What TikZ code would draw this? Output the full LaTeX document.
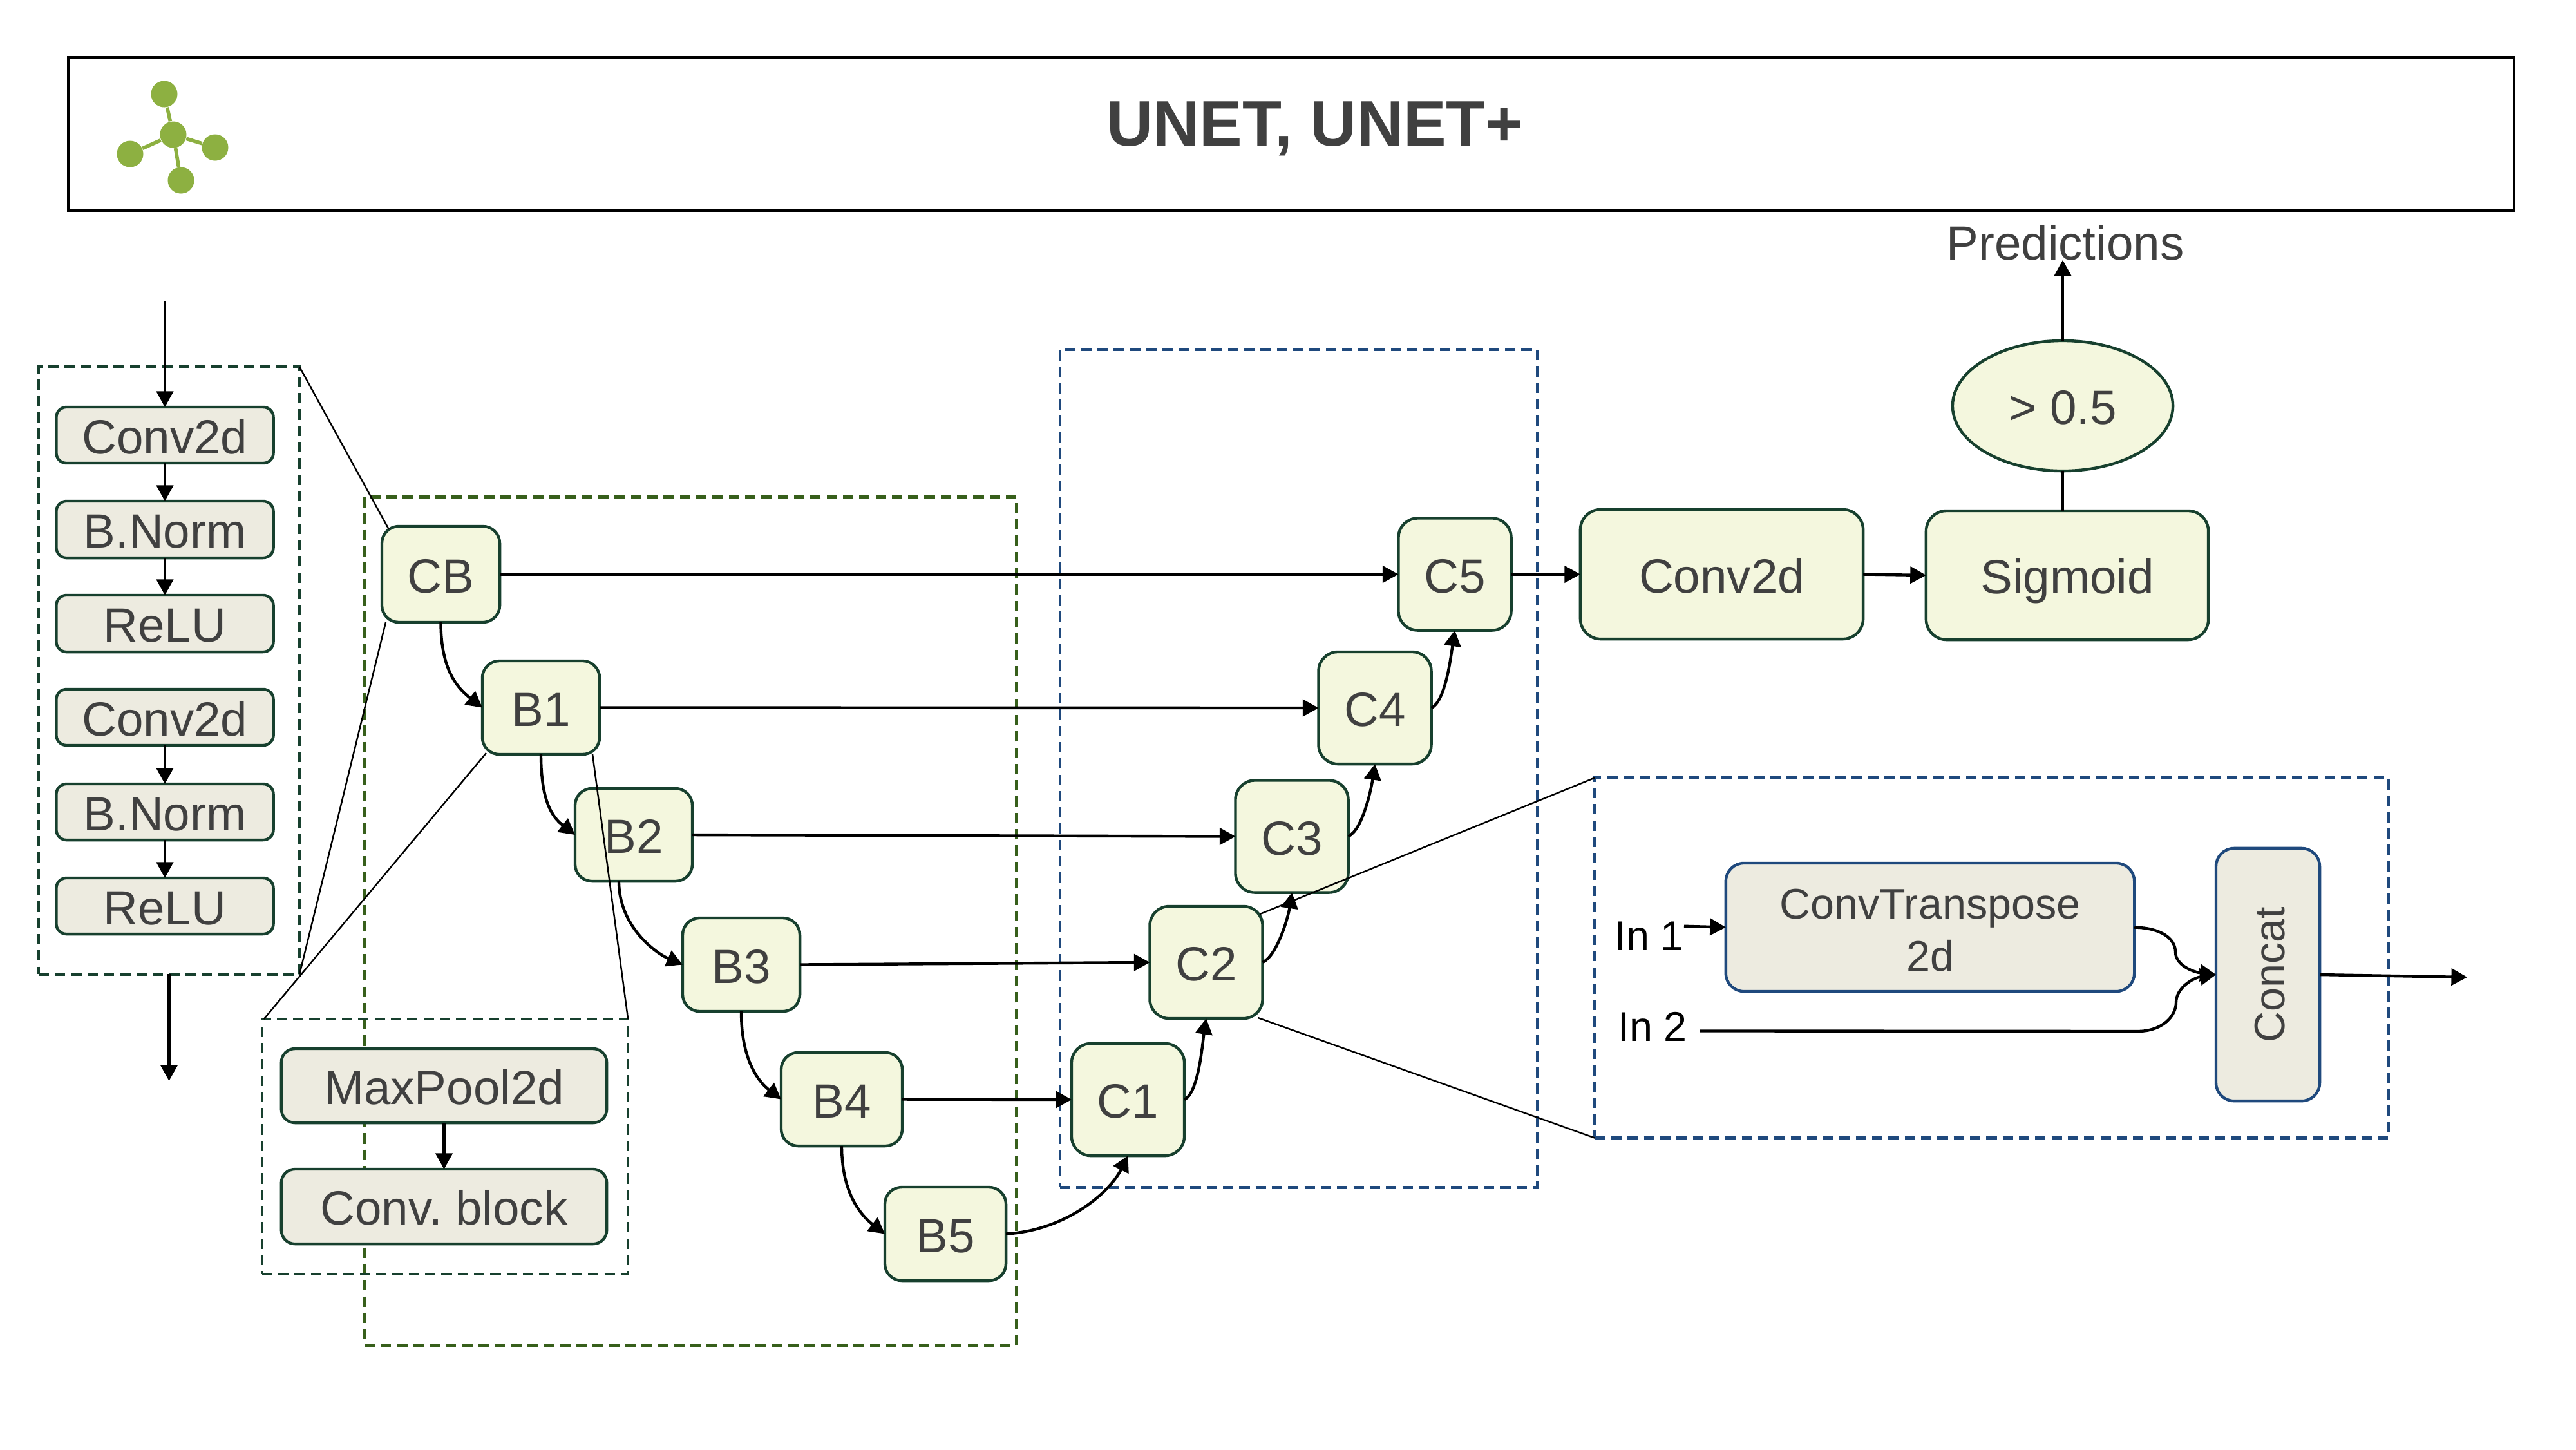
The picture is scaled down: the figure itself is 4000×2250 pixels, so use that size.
\documentclass[tikz,border=0pt]{standalone}
\usepackage{fontspec}
\usepackage{graphicx}
\setmainfont{Liberation Sans}
\usetikzlibrary{arrows.meta,shapes.geometric}
\definecolor{txtgray}{HTML}{404040}
\definecolor{lime}{HTML}{F4F7DE}
\definecolor{stone}{HTML}{EDEBE0}
\definecolor{edgegreen}{HTML}{17402E}
\definecolor{boxblue}{HTML}{1F497D}
\definecolor{mossgreen}{HTML}{375F1B}
\definecolor{icongreen}{HTML}{8DB041}
\tikzset{
  basebox/.style={draw=edgegreen,line width=1.25pt,inner sep=0pt,outer sep=0pt,text=txtgray,
    font=\fontsize{21.2}{25}\selectfont,text height=16.3pt,text depth=0pt,align=center},
  gblk/.style={basebox,rectangle,rounded corners=7.5pt,fill=lime},
  cblk/.style={basebox,rectangle,rounded corners=8.5pt,fill=lime,minimum width=1.75cm,minimum height=1.74cm},
  bigblk/.style={basebox,rectangle,rounded corners=9pt,fill=lime},
  sblk/.style={basebox,rectangle,rounded corners=4.5pt,fill=stone},
  pblk/.style={basebox,rectangle,rounded corners=6pt,fill=stone,minimum width=5.05cm},
  tblk/.style={draw=boxblue,line width=1.25pt,rectangle,rounded corners=8pt,fill=stone,inner sep=0pt,outer sep=0pt,
    text=txtgray,font=\fontsize{18.9}{23}\selectfont,align=center},
  dbox/.style={rectangle,inner sep=0pt,outer sep=0pt,line width=1.3pt,dash pattern=on 4.6pt off 2.6pt},
  conn/.style={draw=black,line width=1.25pt,-{Triangle[length=7pt,width=7.4pt]}},
  plain/.style={draw=black,line width=1.25pt},
  thin line/.style={draw=black,line width=.7pt},
  dot/.style={circle,fill=icongreen,inner sep=0pt,minimum size=.41cm},
  iconline/.style={draw=icongreen,line width=1.6pt},
  lbl/.style={inner sep=0pt,outer sep=0pt,anchor=base},
}
\begin{document}
\begin{tikzpicture}[x=0.01cm,y=-0.01cm]
\useasboundingbox (0,0) rectangle (4000,2250);
% header
\node[draw=black,line width=1.15pt,rectangle,inner sep=0pt,minimum width=37.96cm,minimum height=2.38cm] (header) at (2005,208) {};
\node[inner sep=0pt,text=txtgray,font=\fontsize{28.4}{32}\selectfont\bfseries] (title) at (2042,200) {UNET, UNET+};
\node[dot] (i0) at (269,209) {};
\node[dot] (i1) at (255,146) {};
\node[dot] (i2) at (202,239) {};
\node[dot] (i3) at (334,229) {};
\node[dot] (i4) at (281,280) {};
\draw[iconline] (i0)--(i1) (i0)--(i2) (i0)--(i3) (i0)--(i4);
% dashed groups
\node[dbox,draw=mossgreen,minimum width=10.12cm,minimum height=13.16cm] (encbox) at (1072,1430) {};
\node[dbox,draw=boxblue,minimum width=7.41cm,minimum height=13cm] (decbox) at (2016.5,1193) {};
\node[dbox,draw=edgegreen,minimum width=4.05cm,minimum height=9.42cm] (convbox) at (262.5,1041) {};
\node[dbox,draw=edgegreen,minimum width=5.68cm,minimum height=3.96cm] (poolbox) at (691,1780) {};
\node[dbox,draw=boxblue,minimum width=12.31cm,minimum height=5.59cm] (upbox) at (3092.5,1487) {};
% convolution block
\node[sblk,minimum width=3.37cm,minimum height=.87cm] (conva) at (256,675.5) {Conv2d};
\node[sblk,minimum width=3.37cm,minimum height=.88cm] (norma) at (256,822) {B.Norm};
\node[sblk,minimum width=3.37cm,minimum height=.88cm] (relua) at (256,968) {ReLU};
\node[sblk,minimum width=3.37cm,minimum height=.87cm] (convb) at (256,1113.5) {Conv2d};
\node[sblk,minimum width=3.37cm,minimum height=.87cm] (normb) at (256,1260.5) {B.Norm};
\node[sblk,minimum width=3.37cm,minimum height=.87cm] (relub) at (256,1406.5) {ReLU};
% pool block
\node[pblk,minimum height=1.15cm] (pool) at (689.5,1685.5) {MaxPool2d};
\node[pblk,minimum height=1.16cm] (cblock) at (689.5,1873) {Conv.\ block};
% encoder
\node[gblk,minimum width=1.83cm,minimum height=1.49cm] (CB) at (684.5,891.5) {CB};
\node[gblk,minimum width=1.82cm,minimum height=1.45cm] (B1) at (840,1098.5) {B1};
\node[gblk,minimum width=1.82cm,minimum height=1.44cm] (B2) at (984,1296) {B2};
\node[gblk,minimum width=1.82cm,minimum height=1.45cm] (B3) at (1151,1497.5) {B3};
\node[gblk,minimum width=1.88cm,minimum height=1.45cm] (B4) at (1307,1706.5) {B4};
\node[gblk,minimum width=1.88cm,minimum height=1.45cm] (B5) at (1468,1915.5) {B5};
% decoder
\node[cblk] (C1) at (1751.5,1707) {C1};
\node[cblk] (C2) at (1873,1494) {C2};
\node[cblk] (C3) at (2006,1298.5) {C3};
\node[cblk] (C4) at (2135,1099) {C4};
\node[cblk] (C5) at (2259,891.5) {C5};
% head
\node[bigblk,minimum width=4.39cm,minimum height=2.01cm] (outconv) at (2673.5,891.5) {Conv2d};
\node[bigblk,minimum width=4.38cm,minimum height=2cm] (sig) at (3210,893) {Sigmoid};
\node[basebox,ellipse,fill=lime,minimum width=3.42cm,minimum height=2.02cm] (thr) at (3203,630) {> 0.5};
\node[lbl,text=txtgray,font=\fontsize{21.2}{25}\selectfont] (pred) at (3207,403) {Predictions};
% upsampling block
\node[tblk,minimum width=6.34cm,minimum height=1.99cm] (trans) at (2997,1439.5) {\rule{0pt}{15.9pt}ConvTranspose\\2d};
\node[tblk,minimum width=1.61cm,minimum height=3.92cm] (concat) at (3521.5,1513) {\rotatebox{90}{\rule{0pt}{15.2pt}Concat}};
\node[lbl,font=\fontsize{18.4}{22}\selectfont] (ina) at (2561,1475) {In 1};
\node[lbl,font=\fontsize{18.4}{22}\selectfont] (inb) at (2566,1616) {In 2};
% free ends
\coordinate (inp) at (256,468);
\coordinate (outp) at (262.5,1678);
\coordinate (upout) at (3831,1517);
\coordinate (bendA) at (3378,1478);
\coordinate (bendB) at (3379,1556);
\coordinate (flatB) at (3319,1601);
% connectors
\draw[conn] (inp) -- (conva.north);
\draw[conn] (conva) -- (norma);
\draw[conn] (norma) -- (relua);
\draw[conn] (convb) -- (normb);
\draw[conn] (normb) -- (relub);
\draw[conn] (convbox.south) -- (outp);
\draw[conn] (pool) -- (cblock);
\draw[conn] (CB.east) -- (C5.west);
\draw[conn] (B1.east) -- (C4.west);
\draw[conn] (B2.east) -- (C3.west);
\draw[conn] (B3.east) -- (C2.west);
\draw[conn] (B4.east) -- (C1.west);
\draw[conn] (CB.south) .. controls +(0,75) and +(-38,-30) .. (B1.west);
\draw[conn] (B1.south) .. controls +(0,72) and +(-36,-28) .. (B2.west);
\draw[conn] ([xshift=-.23cm]B2.south) .. controls +(0,70) and +(-42,-18) .. (B3.west);
\draw[conn] (B3.south) .. controls +(0,75) and +(-36,-28) .. (B4.west);
\draw[conn] (B4.south) .. controls +(0,75) and +(-36,-28) .. (B5.west);
\draw[conn] (B5.east) .. controls +(90,-5) and +(-30,60) .. (C1.south);
\draw[conn] (C1.east) .. controls +(22,-10) and +(-6,40) .. (C2.south);
\draw[conn] (C2.east) .. controls +(22,-10) and +(-6,40) .. (C3.south);
\draw[conn] (C3.east) .. controls +(22,-10) and +(-6,40) .. (C4.south);
\draw[conn] (C4.east) .. controls +(22,-10) and +(-6,40) .. (C5.south);
\draw[conn] (C5.east) -- (outconv.west);
\draw[conn] (outconv.east) -- (sig.west);
\draw[plain] (thr.south) -- (thr.south |- sig.north);
\draw[conn] (thr.north) -- (thr.north |- pred.south);
\draw[conn] ([yshift=.15cm]ina.east) -- (trans.west);
\draw[conn] (trans.east) .. controls +(43,1) and +(0,-20) .. (bendA) .. controls +(0,20) and +(-36,-4) .. (concat.west);
\draw[conn] ([xshift=.19cm,yshift=-.07cm]inb.east) -- (flatB) .. controls +(38,0) and +(0,22) .. (bendB) .. controls +(0,-22) and +(-36,5) .. (concat.west);
\draw[conn] (concat.east) -- (upout);
% zoom lines
\draw[thin line] (convbox.north east) -- ([xshift=.11cm,yshift=-.05cm]CB.north west);
\draw[thin line] (convbox.south east) -- ([xshift=.06cm]CB.south west);
\draw[thin line] ([xshift=.03cm]poolbox.north west) -- ([xshift=.06cm,yshift=.02cm]B1.south west);
\draw[thin line] (poolbox.north east) -- ([xshift=-.11cm]B1.south east);
\draw[thin line] (upbox.north west) -- ([xshift=-.04cm,yshift=-.12cm]C2.north east);
\draw[thin line] (upbox.south west) -- ([xshift=-.07cm,yshift=.01cm]C2.south east);
\end{tikzpicture}
\end{document}
